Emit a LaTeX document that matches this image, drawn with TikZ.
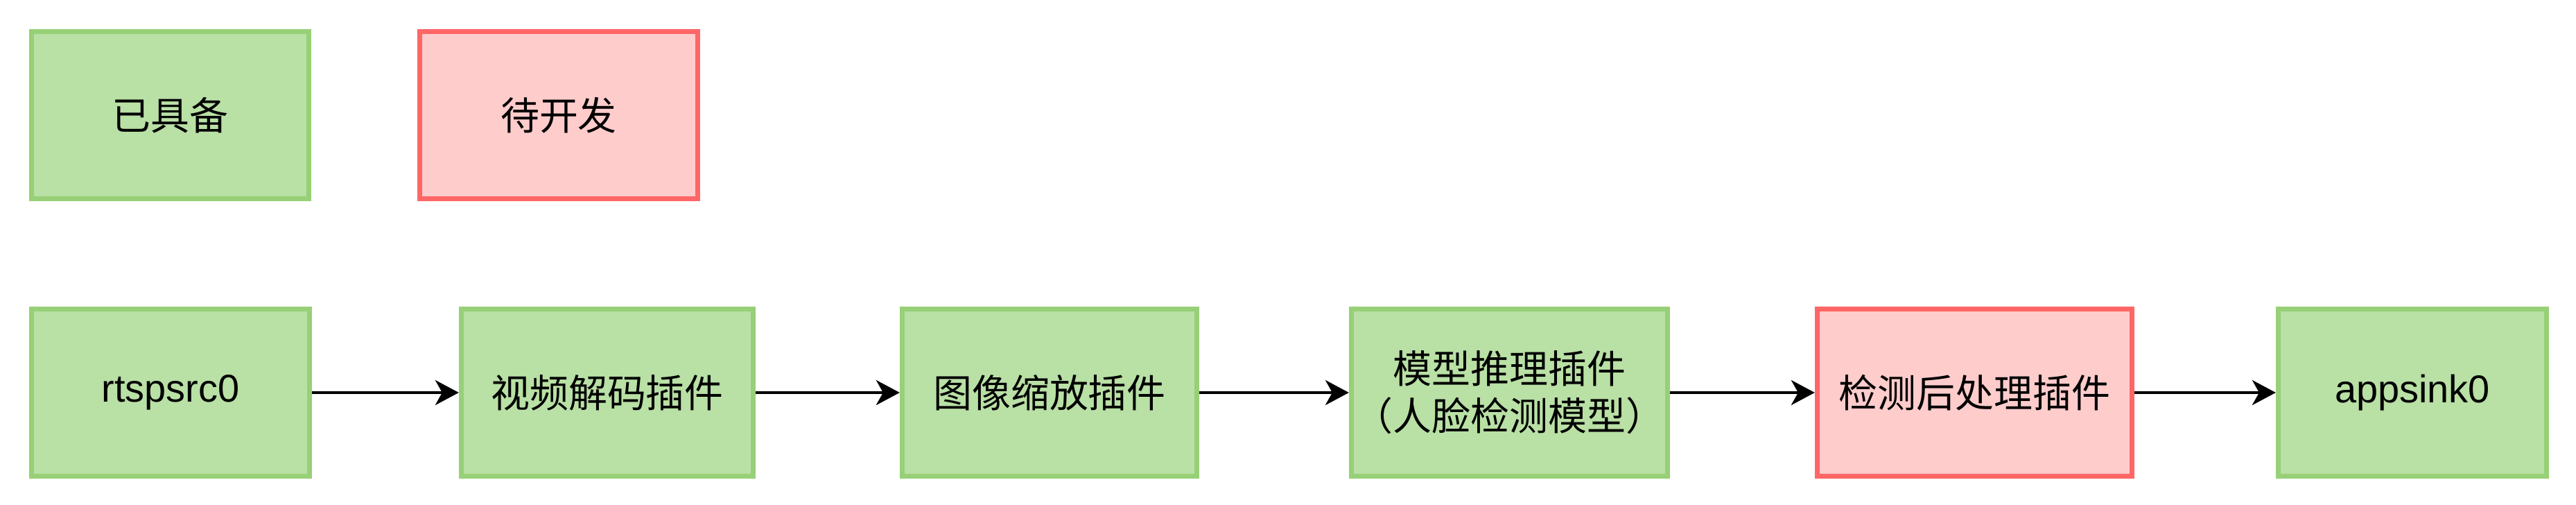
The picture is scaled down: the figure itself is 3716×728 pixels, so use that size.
\documentclass[tikz,border=0pt]{standalone}
\usepackage{fontspec}
\setmainfont{Liberation Sans}
\newfontfamily\cjk{Noto Sans CJK SC}
\usetikzlibrary{arrows.meta}
\definecolor{okfill}{HTML}{B9E0A5}
\definecolor{okline}{HTML}{97D077}
\definecolor{todofill}{HTML}{FFCCCC}
\definecolor{todoline}{HTML}{FF6666}
\tikzset{
  plugin/.style={draw, line width=0.07cm, minimum height=2.41cm, align=center,
    font=\fontsize{15.9pt}{19.3pt}\selectfont\cjk, inner sep=0pt},
  ready/.style={plugin, fill=okfill, draw=okline},
  todo/.style={plugin, fill=todofill, draw=todoline},
  flow/.style={line width=0.035cm, -{Stealth[length=0.34cm, width=0.36cm, inset=0.1cm]}}
}
\begin{document}
\begin{tikzpicture}[x=0.01cm, y=-0.01cm]
        \useasboundingbox (0, 0) rectangle (3716, 728);
        % legend
        \node[ready, minimum width=4.0cm] (have) at (245.5, 166) {已具备};
        \node[todo, minimum width=4.01cm] (dev) at (806, 166) {待开发};
        % node
        \node[ready, minimum width=4.01cm, font=\fontsize{15.9pt}{19.3pt}\selectfont] (src) at (246, 566) {rtspsrc0};
        \node[ready, minimum width=4.21cm] (dec) at (876, 566) {视频解码插件};
        \node[ready, minimum width=4.25cm] (resize) at (1514, 566) {图像缩放插件};
        \node[ready, minimum width=4.56cm] (infer) at (2177.5, 566) {模型推理插件\\（人脸检测模型）};
        \node[todo, minimum width=4.54cm] (post) at (2848.5, 566) {检测后处理插件};
        \node[ready, minimum width=3.87cm, font=\fontsize{15.9pt}{19.3pt}\selectfont] (sink) at (3480, 566) {appsink0};
        % lines
        \draw[flow] (src) -- (dec);
        \draw[flow] (dec) -- (resize);
        \draw[flow] (resize) -- (infer);
        \draw[flow] (infer) -- (post);
        \draw[flow] (post) -- (sink);
      \end{tikzpicture}
\end{document}
